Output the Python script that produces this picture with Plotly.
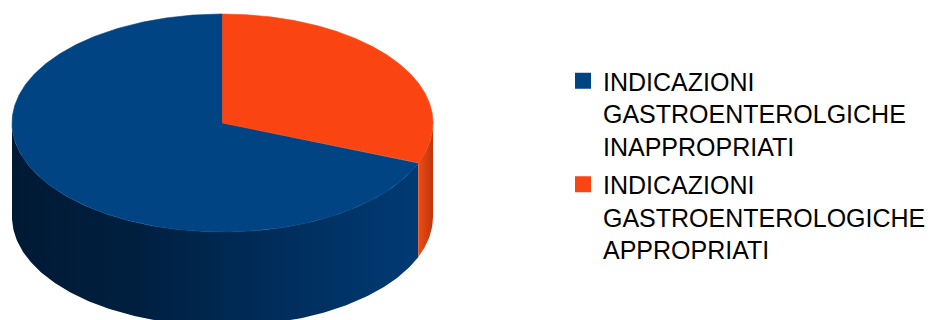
import numpy as np
import plotly.graph_objects as go

# Slice labels and shares
categories = [
    "INDICAZIONI<br>GASTROENTEROLGICHE<br>INAPPROPRIATI",
    "INDICAZIONI<br>GASTROENTEROLOGICHE<br>APPROPRIATI",
]
values = [69, 31]
top_colors = ["#004483", "#fa4411"]
side_scales = [
    [[0, "#001a35"], [0.3, "#001f3f"], [0.6, "#002b57"], [0.85, "#00356a"],
     [1, "#003b74"]],
    [[0, "#ee4c16"], [1, "#bf350a"]],
]

# Canvas and pie geometry (pixel units; y grows downwards)
W, H = 932, 320
CX, CY = 222.5, 123.0
RX, RY = 210.5, 109.0
DEPTH = 94.0
START = 90.0  # first slice starts at 12 o'clock and runs counter-clockwise


def ellipse(t_deg, dy=0.0):
    t = np.radians(t_deg)
    return CX + RX * np.cos(t), CY - RY * np.sin(t) + dy


total = float(sum(values))
edges = START + np.concatenate([[0.0], np.cumsum(values)]) / total * 360.0

fig = go.Figure()

# Visible rim (front half of the cylinder, 180..360 degrees)
for i in range(len(values)):
    a0, a1 = edges[i], edges[i + 1]
    lo, hi = max(a0, 180.0), min(a1, 360.0)
    if hi <= lo:
        continue
    t = np.linspace(lo, hi, 200)
    xt, yt = ellipse(t)
    xb, yb = ellipse(t[::-1], DEPTH)
    xs = np.concatenate([xt, xb, xt[:1]])
    ys = np.concatenate([yt, yb, yt[:1]])
    fig.add_trace(go.Scatter(
        x=xs, y=ys, mode="lines", fill="toself",
        line=dict(width=0),
        fillgradient=dict(type="horizontal", colorscale=side_scales[i]),
        hoverinfo="skip", showlegend=False,
    ))

# Top faces
for i in range(len(values)):
    t = np.linspace(edges[i], edges[i + 1], 400)
    xa, ya = ellipse(t)
    xs = np.concatenate([[CX], xa, [CX]])
    ys = np.concatenate([[CY], ya, [CY]])
    fig.add_trace(go.Scatter(
        x=xs, y=ys, mode="lines", fill="toself",
        line=dict(width=0.6, color=top_colors[i]),
        fillcolor=top_colors[i],
        hoverinfo="skip", showlegend=False,
    ))

# Legend entries
for i, name in enumerate(categories):
    fig.add_trace(go.Scatter(
        x=[None], y=[None], mode="markers", name=name,
        legendgroup=f"g{i}",
        marker=dict(symbol="square", size=16, color=top_colors[i],
                    line=dict(width=0)),
    ))

fig.update_layout(
    width=W, height=H,
    margin=dict(l=0, r=0, t=0, b=0, autoexpand=False),
    paper_bgcolor="white", plot_bgcolor="white",
    xaxis=dict(range=[0, W], visible=False, fixedrange=True),
    yaxis=dict(range=[H, 0], visible=False, fixedrange=True),
    showlegend=True,
    legend=dict(
        x=563 / W, xanchor="left", y=1 - 58 / H, yanchor="top",
        valign="top", tracegroupgap=3, bgcolor="rgba(0,0,0,0)",
        font=dict(family="Liberation Sans, Arial, sans-serif", size=25,
                  color="#000000"),
    ),
)

fig.write_html("out.html")
